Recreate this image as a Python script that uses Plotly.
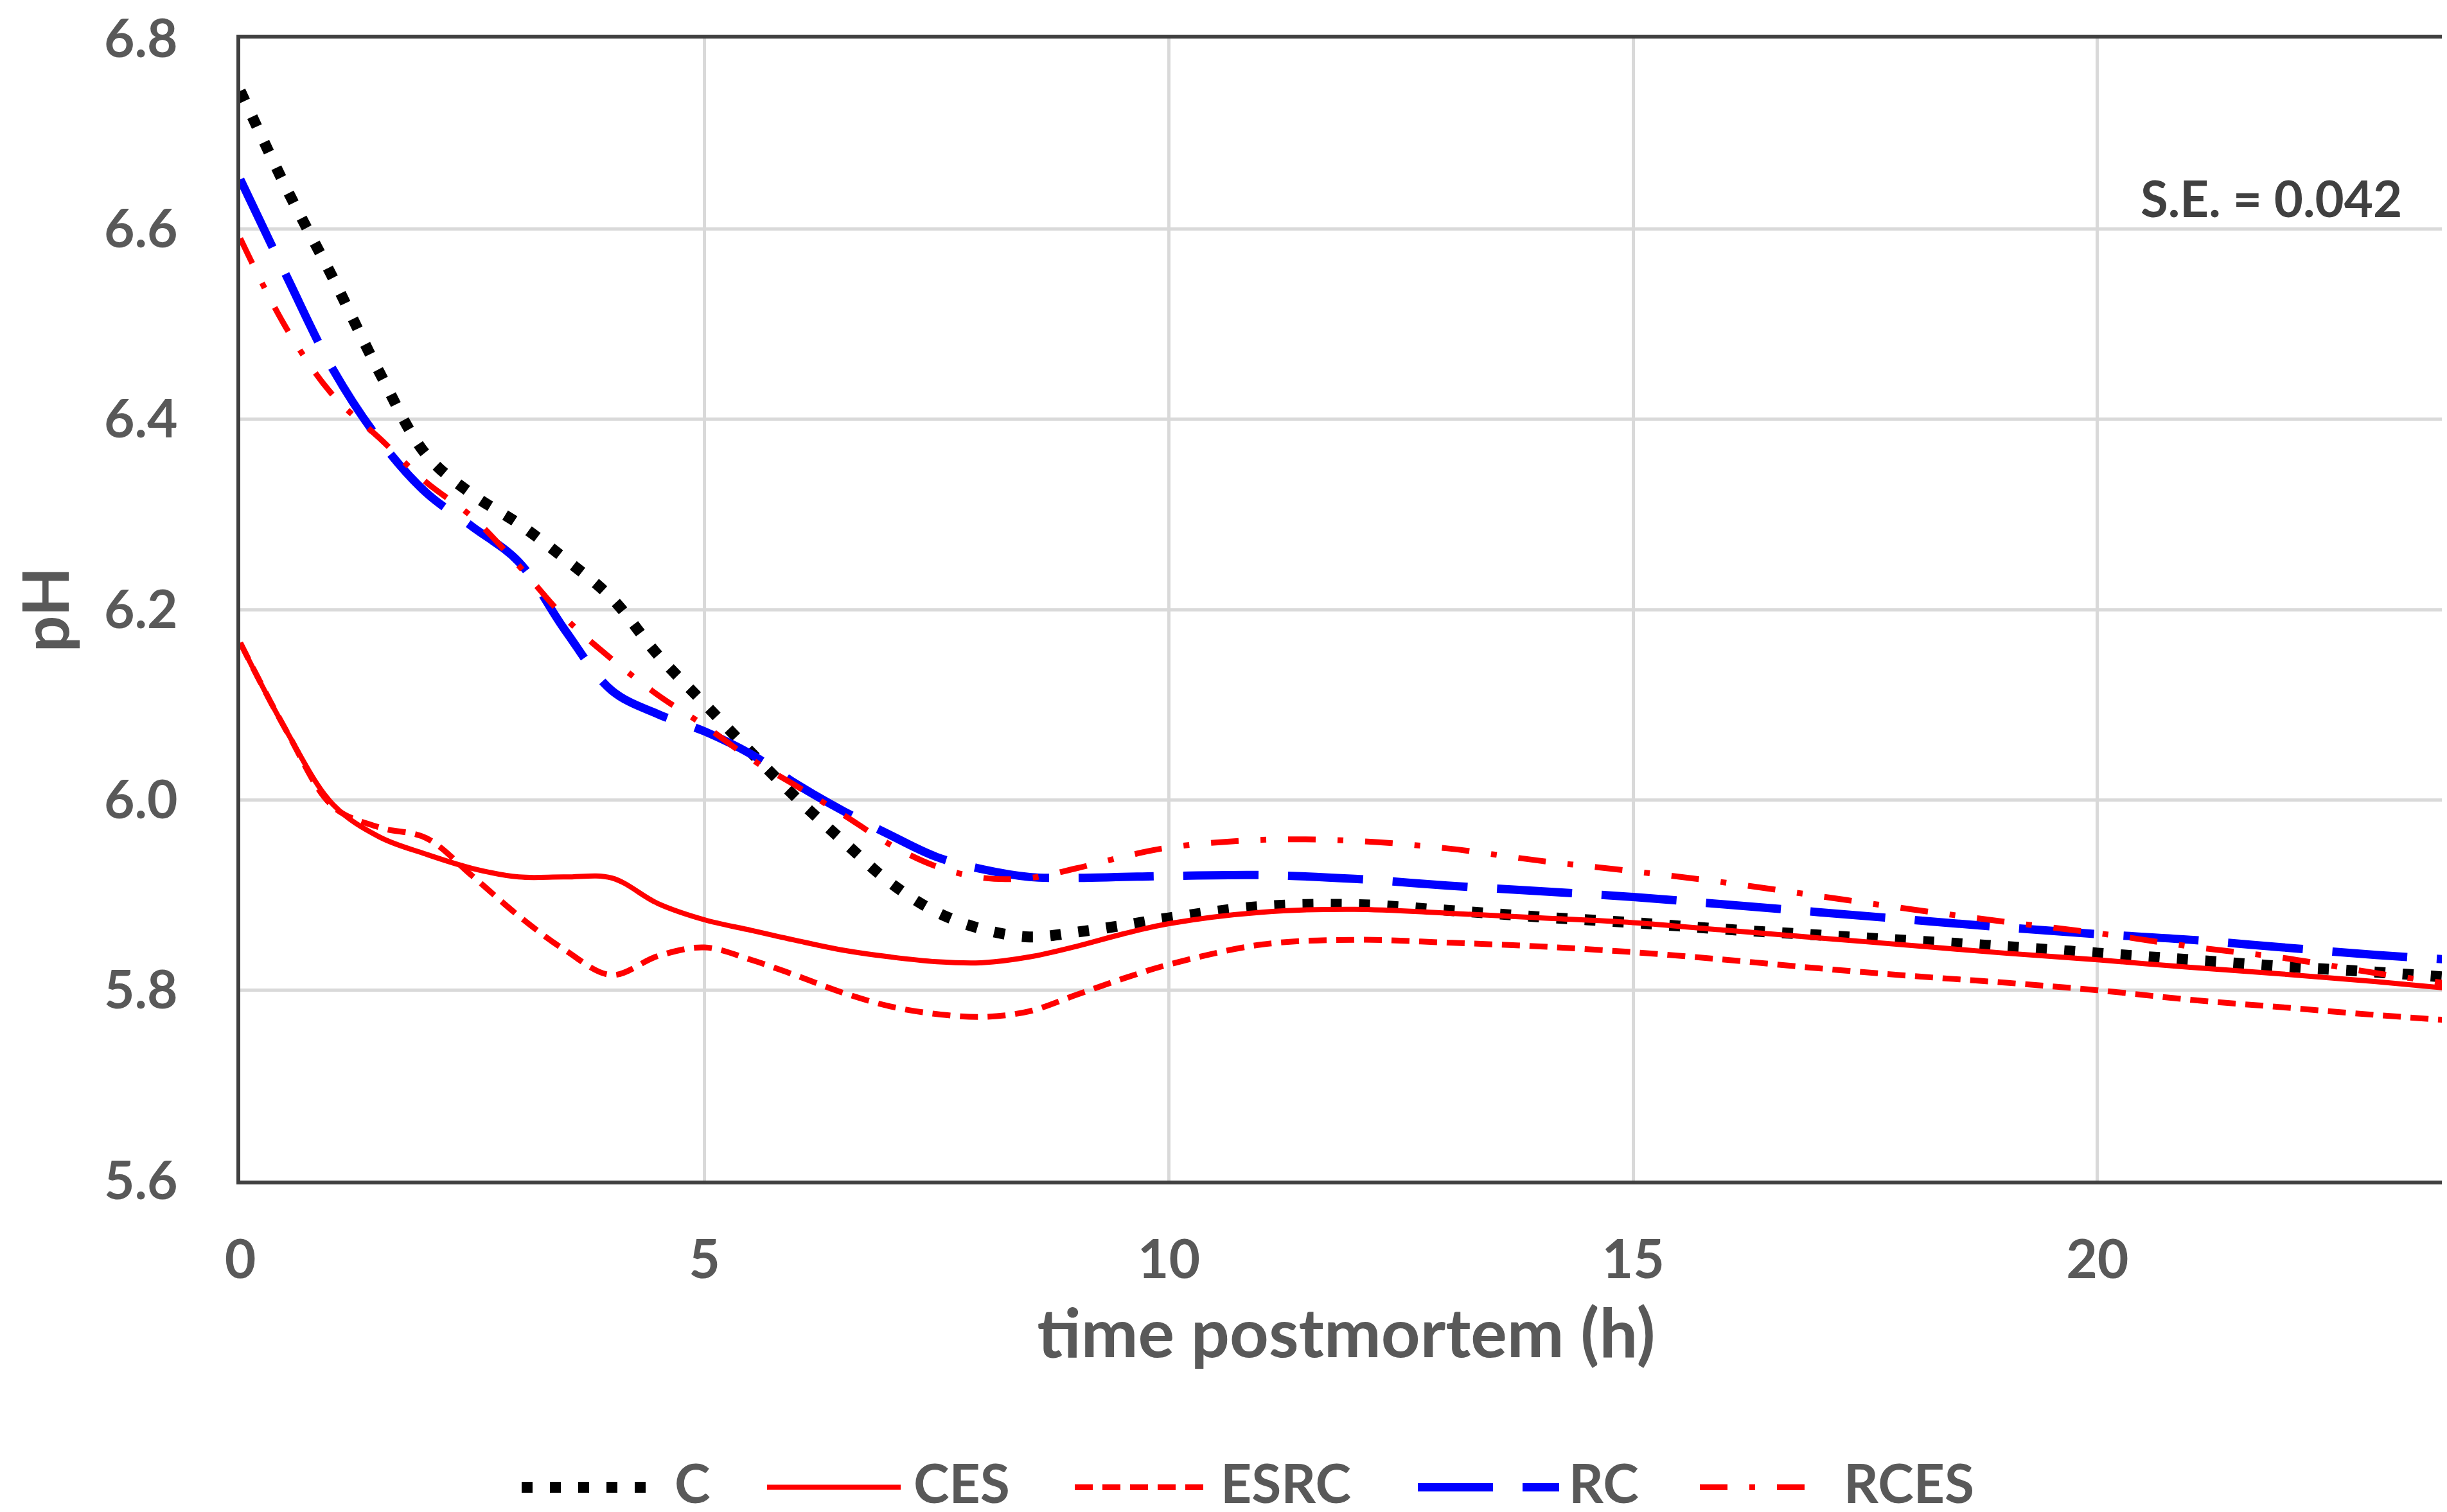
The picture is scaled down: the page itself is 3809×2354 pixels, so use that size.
import plotly.graph_objects as go

# ---- data ----
hours = [0, 0.5, 1, 1.5, 2, 2.5, 3, 3.5, 4, 4.5, 5, 5.5, 6, 6.5, 7, 7.5, 8, 8.5, 9, 9.5,
         10, 11, 12, 13, 14, 15, 16, 17, 18, 19, 20, 21, 22, 23, 24]

ph_C = [6.745, 6.642, 6.548, 6.449, 6.363, 6.321, 6.290, 6.253, 6.212, 6.152, 6.101, 6.050,
        6.001, 5.956, 5.913, 5.882, 5.864, 5.856, 5.861, 5.868, 5.876, 5.888, 5.890, 5.884,
        5.877, 5.871, 5.864, 5.858, 5.852, 5.846, 5.839, 5.832, 5.825, 5.819, 5.812]
ph_CES = [6.165, 6.072, 5.995, 5.961, 5.943, 5.928, 5.919, 5.919, 5.918, 5.891, 5.874, 5.863,
          5.852, 5.842, 5.835, 5.830, 5.829, 5.835, 5.846, 5.859, 5.870, 5.882, 5.885, 5.881,
          5.876, 5.871, 5.863, 5.855, 5.847, 5.839, 5.832, 5.824, 5.817, 5.809, 5.800]
ph_ESRC = [6.165, 6.072, 5.993, 5.971, 5.960, 5.920, 5.878, 5.842, 5.816, 5.836, 5.845, 5.832,
           5.815, 5.797, 5.783, 5.775, 5.772, 5.778, 5.795, 5.812, 5.827, 5.848, 5.853, 5.850,
           5.846, 5.840, 5.832, 5.823, 5.815, 5.808, 5.800, 5.790, 5.782, 5.774, 5.767]
ph_RC = [6.652, 6.550, 6.452, 6.378, 6.323, 6.287, 6.250, 6.178, 6.115, 6.090, 6.072, 6.048,
         6.016, 5.988, 5.963, 5.940, 5.927, 5.919, 5.918, 5.919, 5.920, 5.921, 5.917, 5.910,
         5.904, 5.898, 5.890, 5.882, 5.874, 5.866, 5.859, 5.853, 5.845, 5.837, 5.831]
ph_RCES = [6.590, 6.495, 6.425, 6.380, 6.334, 6.297, 6.246, 6.191, 6.148, 6.110, 6.078, 6.043,
           6.014, 5.984, 5.953, 5.930, 5.918, 5.918, 5.928, 5.940, 5.950, 5.958, 5.957, 5.949,
           5.936, 5.925, 5.913, 5.899, 5.885, 5.872, 5.860, 5.846, 5.834, 5.818, 5.804]

names = ["C", "CES", "ESRC", "RC", "RCES"]
series = [ph_C, ph_CES, ph_ESRC, ph_RC, ph_RCES]

x_ticks = [0, 5, 10, 15, 20]
y_ticks = [5.6, 5.8, 6.0, 6.2, 6.4, 6.6, 6.8]

# ---- styles ----
styles = {
    "C":    dict(color="#000000", width=17, dash="17px,27px"),
    "CES":  dict(color="#FF0000", width=8, dash="solid"),
    "ESRC": dict(color="#FF0000", width=9, dash="28px,15px"),
    "RC":   dict(color="#0000FF", width=13, dash="117px,46px"),
    "RCES": dict(color="#FF0000", width=9, dash="43px,34px,9px,34px"),
}

W, H = 3809, 2354
ML, MR, MT, MB = 366, 0, 50, 524
FONT = "Lato, Open Sans, sans-serif"
GRAY = "#595959"

fig = go.Figure()
for name, ys in zip(names, series):
    st = styles[name]
    fig.add_trace(go.Scatter(
        x=hours, y=ys, name=name, mode="lines",
        line=dict(color=st["color"], width=st["width"], dash=st["dash"],
                  shape="spline", smoothing=1.0),
        showlegend=False,
    ))

# ---- manual legend (long line samples like the original) ----
plot_w = W - ML - MR
plot_h = H - MT - MB
def px_x(fx):
    return (fx - ML) / plot_w
def px_y(fy):
    return (H - MB - fy) / plot_h

legend_items = {  # sample start, sample end, text left (pixels)
    "C": (804, 1010, 1040),
    "CES": (1186, 1394, 1412),
    "ESRC": (1665, 1872, 1890),
    "RC": (2199, 2419, 2432),
    "RCES": (2638, 2818, 2860),
}
ly = 2300
shapes = []
annotations = []
for name in names:
    st = styles[name]
    x0, x1, xt = legend_items[name]
    shapes.append(dict(type="line", xref="paper", yref="paper",
                       x0=px_x(x0), x1=px_x(x1), y0=px_y(ly + 8), y1=px_y(ly + 8),
                       line=dict(color=st["color"], width=st["width"], dash=st["dash"])))
    annotations.append(dict(xref="paper", yref="paper", x=px_x(xt), y=px_y(ly),
                            text=name, showarrow=False, xanchor="left", yanchor="middle",
                            font=dict(family=FONT, size=84, color=GRAY, weight="bold")))

annotations.append(dict(xref="paper", yref="paper", x=px_x(3527), y=px_y(298),
                        text="S.E. = 0.042", showarrow=False, xanchor="center",
                        yanchor="middle",
                        font=dict(family=FONT, size=78, color="#404040", weight="bold")))

fig.update_layout(
    width=W, height=H,
    margin=dict(l=ML, r=MR, t=MT, b=MB, pad=0),
    paper_bgcolor="white", plot_bgcolor="white",
    shapes=shapes, annotations=annotations,
    showlegend=False,
    xaxis=dict(
        range=[0, 23.82], tickvals=x_ticks, ticktext=[str(v) for v in x_ticks],
        showgrid=True, gridcolor="#D9D9D9", gridwidth=5,
        showline=True, linecolor="#404040", linewidth=6, mirror=True,
        zeroline=False, ticks="", ticklabelstandoff=45, ticklabeloverflow="allow",
        tickfont=dict(family=FONT, size=84, color=GRAY, weight="bold"),
        title=dict(text="time postmortem (h)", standoff=18,
                   font=dict(family=FONT, size=106, color=GRAY, weight="bold")),
    ),
    yaxis=dict(
        range=[5.6, 6.8], tickvals=y_ticks, ticktext=[f"{v:.1f}" for v in y_ticks],
        showgrid=True, gridcolor="#D9D9D9", gridwidth=5,
        showline=True, linecolor="#404040", linewidth=6, mirror=False,
        zeroline=False, ticks="", ticklabelstandoff=75, ticklabeloverflow="allow",
        tickfont=dict(family=FONT, size=82, color=GRAY, weight="bold"),
        title=dict(text="pH", standoff=25,
                   font=dict(family=FONT, size=100, color=GRAY, weight="bold")),
    ),
)

fig.write_html("out.html")
